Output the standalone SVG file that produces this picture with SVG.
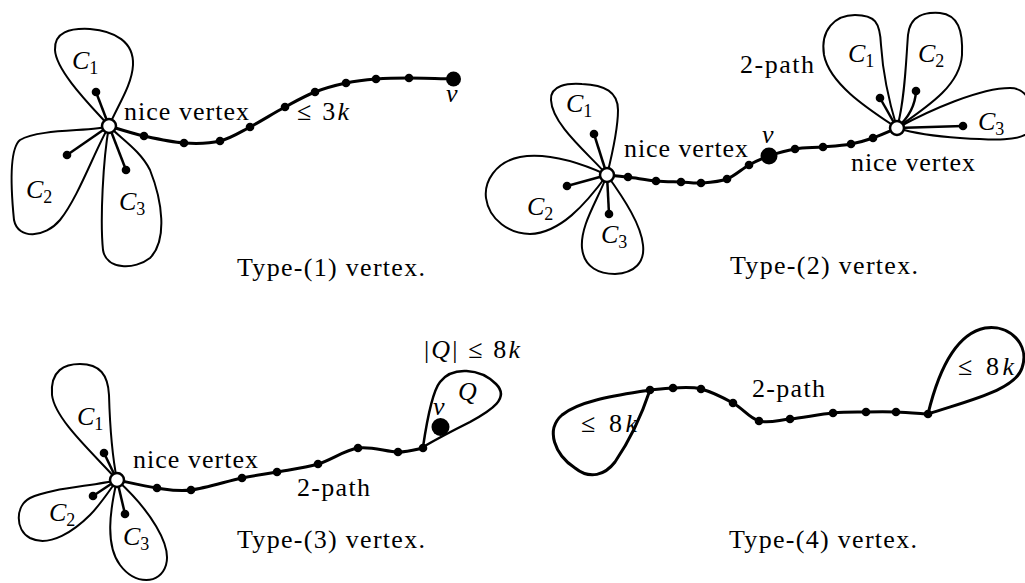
<svg xmlns="http://www.w3.org/2000/svg" width="1025" height="583" viewBox="0 0 1025 583">
<style>
.petal{fill:none;stroke:#000;stroke-width:2}
.loop{fill:none;stroke:#000;stroke-width:3}
.pth{fill:none;stroke:#000;stroke-width:3;stroke-linecap:round}
.wh{fill:none;stroke:#000;stroke-width:2.5}
.dot{fill:#000}
.nice{fill:#fff;stroke:#000;stroke-width:2.5}
</style>
<rect width="1025" height="583" fill="#fff"/>

<!-- Panel 1 -->
<g id="panel1">
  <g id="p1-components">
    <path class="petal" d="M109,126 C95,110 56,72 55,50 C54,32 70,28 90,29 C115,31 134,42 133,65 C132,85 118,105 109,126 Z"/>
    <path class="petal" d="M109,126 C95,132 40,128 20,140 C8,150 12,200 14,220 C18,240 45,238 60,220 C78,198 95,150 109,126 Z"/>
    <path class="petal" d="M109,126 C103,160 100,220 103,250 C106,270 135,270 150,258 C168,240 162,200 150,170 C140,150 120,138 109,126 Z"/>
  </g>
  <g id="p1-connectors">
    <line class="wh" x1="109" y1="126" x2="96" y2="92"/>
    <line class="wh" x1="109" y1="126" x2="67" y2="155"/>
    <line class="wh" x1="109" y1="126" x2="126" y2="170"/>
    <path class="pth" d="M109,126 C114.8,127.7 131.5,133.2 144,136 C156.5,138.8 171.3,142.2 184,143 C196.7,143.8 209,143.7 220,141 C231,138.3 239.2,132.7 250,127 C260.8,121.3 274.2,112.8 285,107 C295.8,101.2 304.8,96 315,92 C325.2,88 335.8,85.2 346,83 C356.2,80.8 365.5,79.8 376,79 C386.5,78.2 396.2,78 409,78 C421.8,78 445.7,78.8 453,79"/>
  </g>
  <g id="p1-nodes">
    <circle class="dot" cx="96" cy="92" r="4.3"/>
    <circle class="dot" cx="67" cy="155" r="4.3"/>
    <circle class="dot" cx="126" cy="170" r="4.3"/>
    <circle class="dot" cx="144" cy="136" r="4.3"/>
    <circle class="dot" cx="184" cy="143" r="4.3"/>
    <circle class="dot" cx="220" cy="141" r="4.3"/>
    <circle class="dot" cx="250" cy="127" r="4.3"/>
    <circle class="dot" cx="285" cy="107" r="4.3"/>
    <circle class="dot" cx="315" cy="92" r="4.3"/>
    <circle class="dot" cx="346" cy="83" r="4.3"/>
    <circle class="dot" cx="376" cy="79" r="4.3"/>
    <circle class="dot" cx="409" cy="78" r="4.3"/>
    <circle id="p1-v" class="dot" cx="453.5" cy="79" r="7.5"/>
    <circle id="p1-nice" class="nice" cx="109" cy="126" r="7"/>
  </g>
</g>

<!-- Panel 2 -->
<g id="panel2">
  <g id="p2-components">
    <path class="petal" d="M607,175 C590,155 552,125 551,100 C550,85 568,83 582,84 C605,85 618,92 618,110 C618,130 612,155 607,175 Z"/>
    <path class="petal" d="M607,175 C585,165 550,152 520,157 C495,162 484,182 486,198 C489,220 510,234 530,234 C560,233 585,205 607,175 Z"/>
    <path class="petal" d="M607,175 C598,200 580,225 582,248 C584,268 600,274 615,274 C635,273 645,262 643,245 C641,225 625,200 607,175 Z"/>
    <path class="petal" d="M897,128 C870,110 830,85 824,55 C820,30 835,15 855,15 C875,15 880,22 881,45 C883,75 890,105 897,128 Z"/>
    <path class="petal" d="M897,128 C905,100 906,60 908,35 C910,15 925,12 940,13 C958,15 963,30 962,55 C960,85 930,105 897,128 Z"/>
    <path class="petal" d="M897,128 C930,110 980,88 1010,88 C1030,88 1035,110 1030,130 C1025,142 990,140 960,138 C930,136 910,132 897,128 Z"/>
  </g>
  <g id="p2-connectors">
    <line class="wh" x1="607" y1="175" x2="594" y2="134"/>
    <line class="wh" x1="607" y1="175" x2="567" y2="186"/>
    <line class="wh" x1="607" y1="175" x2="609" y2="214"/>
    <line class="wh" x1="897" y1="128" x2="880" y2="98"/>
    <path class="wh" d="M897,128 Q915,112 916,91"/>
    <line class="wh" x1="897" y1="128" x2="963" y2="126"/>
    <path class="pth" d="M607,175 C610.5,175.3 619.8,176 628,177 C636.2,178 647.2,180.2 656,181 C664.8,181.8 673.5,181.7 681,182 C688.5,182.3 693.3,183.5 701,183 C708.7,182.5 719,182 727,179 C735,176 742,168.8 749,165 C756,161.2 761.3,158.7 769,156 C776.7,153.3 786,150.5 795,149 C804,147.5 813.7,147.8 823,147 C832.3,146.2 842.7,145.5 851,144 C859.3,142.5 865.3,140.7 873,138 C880.7,135.3 893,129.7 897,128"/>
  </g>
  <g id="p2-nodes">
    <circle class="dot" cx="594" cy="134" r="4.3"/>
    <circle class="dot" cx="567" cy="186" r="4.3"/>
    <circle class="dot" cx="609" cy="214" r="4.3"/>
    <circle class="dot" cx="880" cy="98" r="4.3"/>
    <circle class="dot" cx="916" cy="91" r="4.3"/>
    <circle class="dot" cx="963" cy="126" r="4.3"/>
    <circle class="dot" cx="628" cy="177" r="4.3"/>
    <circle class="dot" cx="656" cy="181" r="4.3"/>
    <circle class="dot" cx="681" cy="182" r="4.3"/>
    <circle class="dot" cx="701" cy="183" r="4.3"/>
    <circle class="dot" cx="727" cy="179" r="4.3"/>
    <circle class="dot" cx="749" cy="165" r="4.3"/>
    <circle id="p2-v" class="dot" cx="769" cy="156" r="8.5"/>
    <circle class="dot" cx="795" cy="149" r="4.3"/>
    <circle class="dot" cx="823" cy="147" r="4.3"/>
    <circle class="dot" cx="851" cy="144" r="4.3"/>
    <circle class="dot" cx="873" cy="138" r="4.3"/>
    <circle id="p2-nice-left" class="nice" cx="607" cy="175" r="7"/>
    <circle id="p2-nice-right" class="nice" cx="897" cy="128" r="7"/>
  </g>
</g>

<!-- Panel 3 -->
<g id="panel3">
  <g id="p3-components">
    <path class="petal" d="M117,480 C95,455 55,420 52,395 C50,370 65,364 80,364 C100,364 108,375 109,395 C110,430 112,455 117,480 Z"/>
    <path class="petal" d="M117,480 C95,486 50,488 30,498 C15,506 15,530 30,538 C50,548 75,530 90,515 C100,505 110,490 117,480 Z"/>
    <path class="petal" d="M117,480 C110,510 105,545 120,565 C135,585 160,585 166,565 C172,545 150,510 117,480 Z"/>
    <path id="p3-Q" class="loop" style="stroke-width:2.5" d="M423,447 C427,420 432,392 440,382 C452,366 480,368 496,384 C510,398 492,410 470,422 C450,432 435,440 423,447 Z"/>
  </g>
  <g id="p3-connectors">
    <line class="wh" x1="117" y1="480" x2="104" y2="453"/>
    <line class="wh" x1="117" y1="480" x2="93" y2="496"/>
    <line class="wh" x1="117" y1="480" x2="125" y2="514"/>
    <path class="pth" d="M117,480 C123.7,481.3 144.7,486.3 157,488 C169.3,489.7 176.8,491.7 191,490 C205.2,488.3 227.7,481 242,478 C256.3,475 264.3,474.3 277,472 C289.7,469.7 304.5,468 318,464 C331.5,460 344.7,450 358,448 C371.3,446 387.2,452 398,452 C408.8,452 418.8,448.7 423,448"/>
  </g>
  <g id="p3-nodes">
    <circle class="dot" cx="104" cy="453" r="4.3"/>
    <circle class="dot" cx="93" cy="496" r="4.3"/>
    <circle class="dot" cx="125" cy="514" r="4.3"/>
    <circle class="dot" cx="157" cy="488" r="4.3"/>
    <circle class="dot" cx="191" cy="490" r="4.3"/>
    <circle class="dot" cx="242" cy="478" r="4.3"/>
    <circle class="dot" cx="277" cy="472" r="4.3"/>
    <circle class="dot" cx="318" cy="464" r="4.3"/>
    <circle class="dot" cx="358" cy="448" r="4.3"/>
    <circle class="dot" cx="398" cy="452" r="4.3"/>
    <circle class="dot" cx="423" cy="448" r="4.3"/>
    <circle id="p3-v" class="dot" cx="440.5" cy="427" r="9"/>
    <circle id="p3-nice" class="nice" cx="117" cy="480" r="7"/>
  </g>
</g>

<!-- Panel 4 -->
<g id="panel4">
  <g id="p4-components">
    <path class="loop" d="M650,390 C620,395 580,400 562,415 C545,430 555,455 575,468 C590,480 605,475 615,462 C630,440 640,420 650,390 Z"/>
    <path class="loop" d="M928,414 C935,385 950,335 985,328 C1010,324 1030,345 1022,368 C1015,390 970,400 928,414 Z"/>
  </g>
  <g id="p4-connectors">
    <path class="pth" d="M650,390 C653.8,389.7 664.5,388.2 673,388 C681.5,387.8 691,386.5 701,389 C711,391.5 723.3,397.7 733,403 C742.7,408.3 749.5,418.3 759,421 C768.5,423.7 777.7,420.3 790,419 C802.3,417.7 820.3,414.2 833,413 C845.7,411.8 855.5,412.2 866,412 C876.5,411.8 885.7,411.7 896,412 C906.3,412.3 922.7,413.7 928,414"/>
  </g>
  <g id="p4-nodes">
    <circle class="dot" cx="650" cy="390" r="4.3"/>
    <circle class="dot" cx="673" cy="388" r="4.3"/>
    <circle class="dot" cx="701" cy="389" r="4.3"/>
    <circle class="dot" cx="733" cy="403" r="4.3"/>
    <circle class="dot" cx="759" cy="421" r="4.3"/>
    <circle class="dot" cx="790" cy="419" r="4.3"/>
    <circle class="dot" cx="833" cy="413" r="4.3"/>
    <circle class="dot" cx="866" cy="412" r="4.3"/>
    <circle class="dot" cx="896" cy="412" r="4.3"/>
    <circle class="dot" cx="928" cy="414" r="4.3"/>
  </g>
</g>

<g id="labels">
  <text font-family="Liberation Serif" font-size="26" x="72" y="69"><tspan font-style="italic">C</tspan><tspan font-size="18" dy="5">1</tspan></text>
  <text font-family="Liberation Serif" font-size="26" x="26" y="198"><tspan font-style="italic">C</tspan><tspan font-size="18" dy="5">2</tspan></text>
  <text font-family="Liberation Serif" font-size="26" x="119" y="210"><tspan font-style="italic">C</tspan><tspan font-size="18" dy="5">3</tspan></text>
  <text font-family="Liberation Serif" font-size="26" x="124" y="120" textLength="125" lengthAdjust="spacing">nice vertex</text>
  <text font-family="Liberation Serif" font-size="26" x="297" y="120" textLength="52" lengthAdjust="spacing">≤ 3<tspan font-style="italic">k</tspan></text>
  <text font-family="Liberation Serif" font-size="26" font-style="italic" x="446" y="102">v</text>
  <text font-family="Liberation Serif" font-size="26" x="237" y="276" textLength="188" lengthAdjust="spacing">Type-(1) vertex.</text>

  <text font-family="Liberation Serif" font-size="26" x="566" y="112"><tspan font-style="italic">C</tspan><tspan font-size="18" dy="5">1</tspan></text>
  <text font-family="Liberation Serif" font-size="26" x="527" y="215"><tspan font-style="italic">C</tspan><tspan font-size="18" dy="5">2</tspan></text>
  <text font-family="Liberation Serif" font-size="26" x="601" y="243"><tspan font-style="italic">C</tspan><tspan font-size="18" dy="5">3</tspan></text>
  <text font-family="Liberation Serif" font-size="26" x="848" y="62"><tspan font-style="italic">C</tspan><tspan font-size="18" dy="5">1</tspan></text>
  <text font-family="Liberation Serif" font-size="26" x="918" y="62"><tspan font-style="italic">C</tspan><tspan font-size="18" dy="5">2</tspan></text>
  <text font-family="Liberation Serif" font-size="26" x="978" y="130"><tspan font-style="italic">C</tspan><tspan font-size="18" dy="5">3</tspan></text>
  <text font-family="Liberation Serif" font-size="26" x="624" y="157" textLength="124" lengthAdjust="spacing">nice vertex</text>
  <text font-family="Liberation Serif" font-size="26" x="851" y="171" textLength="124" lengthAdjust="spacing">nice vertex</text>
  <text font-family="Liberation Serif" font-size="26" x="740" y="73" textLength="74" lengthAdjust="spacing">2-path</text>
  <text font-family="Liberation Serif" font-size="26" font-style="italic" x="762" y="143">v</text>
  <text font-family="Liberation Serif" font-size="26" x="730" y="274" textLength="188" lengthAdjust="spacing">Type-(2) vertex.</text>

  <text font-family="Liberation Serif" font-size="26" x="77" y="425"><tspan font-style="italic">C</tspan><tspan font-size="18" dy="5">1</tspan></text>
  <text font-family="Liberation Serif" font-size="26" x="49" y="521"><tspan font-style="italic">C</tspan><tspan font-size="18" dy="5">2</tspan></text>
  <text font-family="Liberation Serif" font-size="26" x="123" y="545"><tspan font-style="italic">C</tspan><tspan font-size="18" dy="5">3</tspan></text>
  <text font-family="Liberation Serif" font-size="26" x="133" y="468" textLength="125" lengthAdjust="spacing">nice vertex</text>
  <text font-family="Liberation Serif" font-size="26" x="297" y="496" textLength="73" lengthAdjust="spacing">2-path</text>
  <text font-family="Liberation Serif" font-size="26" x="424" y="358" textLength="96" lengthAdjust="spacing">|<tspan font-style="italic">Q</tspan>| ≤ 8<tspan font-style="italic">k</tspan></text>
  <text font-family="Liberation Serif" font-size="26" font-style="italic" x="433" y="415">v</text>
  <text font-family="Liberation Serif" font-size="26" font-style="italic" x="458" y="400">Q</text>
  <text font-family="Liberation Serif" font-size="26" x="237" y="548" textLength="188" lengthAdjust="spacing">Type-(3) vertex.</text>

  <text font-family="Liberation Serif" font-size="26" x="581" y="432" textLength="56" lengthAdjust="spacing">≤ 8<tspan font-style="italic">k</tspan></text>
  <text font-family="Liberation Serif" font-size="26" x="958" y="375" textLength="56" lengthAdjust="spacing">≤ 8<tspan font-style="italic">k</tspan></text>
  <text font-family="Liberation Serif" font-size="26" x="752" y="397" textLength="73" lengthAdjust="spacing">2-path</text>
  <text font-family="Liberation Serif" font-size="26" x="729" y="548" textLength="188" lengthAdjust="spacing">Type-(4) vertex.</text>
</g>
</svg>
